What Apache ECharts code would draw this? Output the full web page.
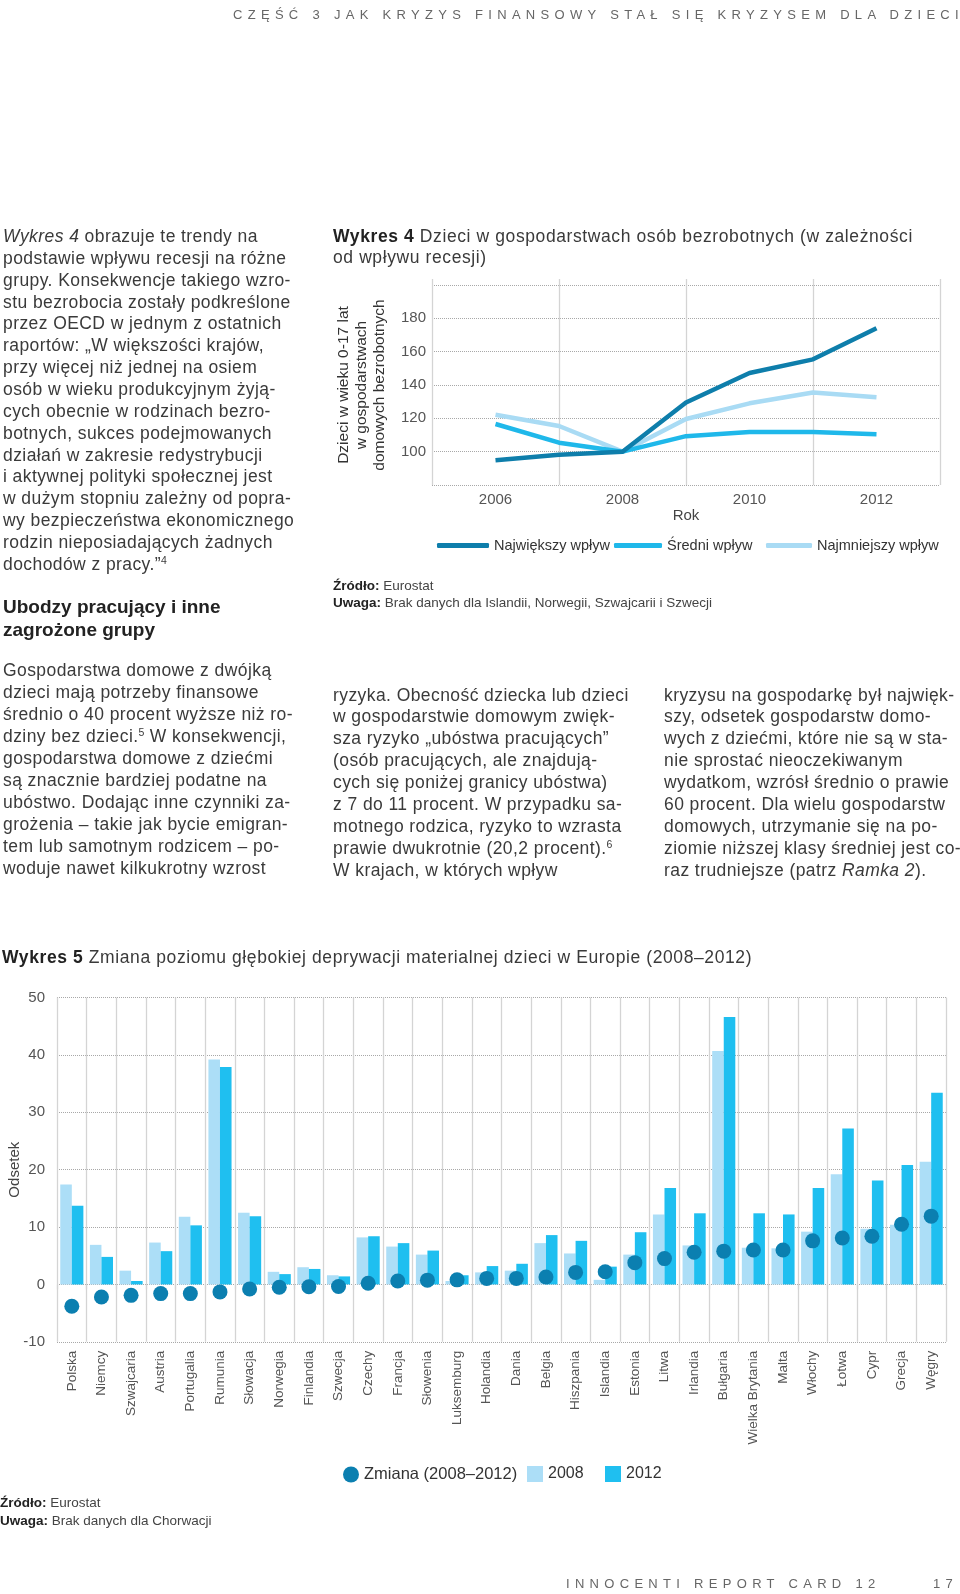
<!DOCTYPE html>
<html><head><meta charset="utf-8">
<script src="https://cdn.jsdelivr.net/npm/echarts@6/dist/echarts.min.js"></script>
<style>
html,body{margin:0;padding:0;background:#fff;}
body{width:960px;height:1594px;position:relative;overflow:hidden;font-family:'Liberation Sans',Arial,sans-serif;color:#3a3a3a;}
#chart{position:absolute;left:0;top:0;width:960px;height:1594px;}
.t{position:absolute;white-space:nowrap;}
.body{font-size:17.5px;letter-spacing:0.42px;line-height:22px;color:#3a3a3a;}
.head{font-size:19px;font-weight:bold;line-height:22px;color:#222;}
.ttl{font-size:17.5px;letter-spacing:0.6px;line-height:22px;color:#3a3a3a;}
.ttl b{color:#222;}
.src{font-size:13.5px;line-height:17px;color:#444;}
.src b{color:#222;}
.cap{font-size:13px;letter-spacing:5.3px;line-height:18px;color:#666;}
sup{font-size:0.6em;vertical-align:baseline;position:relative;top:-0.6em;letter-spacing:0;}
</style>
</head><body>
<div id="chart"></div>
<div id="txt"></div>
<script>
// ---- Wykres 4 data ----
const years4 = [2006, 2007, 2008, 2009, 2010, 2011, 2012];
const najwiekszy = [94.8, 98.2, 100, 129.5, 147.2, 155.4, 174.1];
const sredni = [116.6, 105.4, 100, 109.3, 111.8, 111.8, 110.5];
const najmniejszy = [122.2, 115.4, 100, 119.6, 129, 135.5, 132.6];
const xTicks4 = [2006, 2008, 2010, 2012];
const yTicks4 = [100, 120, 140, 160, 180];

// ---- Wykres 5 data ----
const countries = ['Polska','Niemcy','Szwajcaria','Austria','Portugalia','Rumunia','Słowacja','Norwegia','Finlandia','Szwecja','Czechy','Francja','Słowenia','Luksemburg','Holandia','Dania','Belgia','Hiszpania','Islandia','Estonia','Litwa','Irlandia','Bułgaria','Wielka Brytania','Malta','Włochy','Łotwa','Cypr','Grecja','Węgry'];
const v2008 = [17.4, 6.9, 2.4, 7.3, 11.8, 39.2, 12.5, 2.2, 3.0, 1.6, 8.2, 6.6, 5.2, 0.6, 2.1, 2.4, 7.2, 5.4, 0.8, 5.2, 12.2, 6.8, 40.7, 6.4, 6.3, 9.2, 19.2, 9.7, 10.4, 21.4];
const v2012 = [13.7, 4.8, 0.6, 5.8, 10.3, 37.9, 11.9, 1.8, 2.7, 1.4, 8.4, 7.2, 5.9, 1.6, 3.2, 3.6, 8.6, 7.6, 3.1, 9.1, 16.8, 12.4, 46.6, 12.4, 12.2, 16.8, 27.2, 18.1, 20.8, 33.4];
const zmiana = [-3.8, -2.2, -1.9, -1.6, -1.6, -1.3, -0.8, -0.5, -0.4, -0.35, 0.2, 0.6, 0.75, 0.8, 1.05, 1.05, 1.3, 2.1, 2.2, 3.8, 4.5, 5.6, 5.8, 6.0, 6.0, 7.6, 8.1, 8.4, 10.5, 11.9];
const yTicks5 = [-10, 0, 10, 20, 30, 40, 50];

// ---- text blocks ----
const col1a = [
 '<i>Wykres 4</i> obrazuje te trendy na',
 'podstawie wpływu recesji na różne',
 'grupy. Konsekwencje takiego wzro-',
 'stu bezrobocia zostały podkreślone',
 'przez OECD w jednym z ostatnich',
 'raportów: „W większości krajów,',
 'przy więcej niż jednej na osiem',
 'osób w wieku produkcyjnym żyją-',
 'cych obecnie w rodzinach bezro-',
 'botnych, sukces podejmowanych',
 'działań w zakresie redystrybucji',
 'i aktywnej polityki społecznej jest',
 'w dużym stopniu zależny od popra-',
 'wy bezpieczeństwa ekonomicznego',
 'rodzin nieposiadających żadnych',
 'dochodów z pracy.”<sup>4</sup>'
];
const heading = ['Ubodzy pracujący i inne', 'zagrożone grupy'];
const col1b = [
 'Gospodarstwa domowe z dwójką',
 'dzieci mają potrzeby finansowe',
 'średnio o 40 procent wyższe niż ro-',
 'dziny bez dzieci.<sup>5</sup> W konsekwencji,',
 'gospodarstwa domowe z dziećmi',
 'są znacznie bardziej podatne na',
 'ubóstwo. Dodając inne czynniki za-',
 'grożenia – takie jak bycie emigran-',
 'tem lub samotnym rodzicem – po-',
 'woduje nawet kilkukrotny wzrost'
];
const col2 = [
 'ryzyka. Obecność dziecka lub dzieci',
 'w gospodarstwie domowym zwięk-',
 'sza ryzyko „ubóstwa pracujących”',
 '(osób pracujących, ale znajdują-',
 'cych się poniżej granicy ubóstwa)',
 'z 7 do 11 procent. W przypadku sa-',
 'motnego rodzica, ryzyko to wzrasta',
 'prawie dwukrotnie (20,2 procent).<sup>6</sup>',
 'W krajach, w których wpływ'
];
const col3 = [
 'kryzysu na gospodarkę był najwięk-',
 'szy, odsetek gospodarstw domo-',
 'wych z dziećmi, które nie są w sta-',
 'nie sprostać nieoczekiwanym',
 'wydatkom, wzrósł średnio o prawie',
 '60 procent. Dla wielu gospodarstw',
 'domowych, utrzymanie się na po-',
 'ziomie niższej klasy średniej jest co-',
 'raz trudniejsze (patrz <i>Ramka 2</i>).'
];

const txt = document.getElementById('txt');
function addLines(lines, x, yc0, step, cls, lh) {
  lines.forEach((s, i) => {
    const d = document.createElement('div');
    d.className = 't ' + cls;
    d.style.left = x + 'px';
    d.style.top = (yc0 + i * step - lh / 2) + 'px';
    d.innerHTML = s;
    txt.appendChild(d);
  });
}
addLines(['CZĘŚĆ 3 JAK KRYZYS FINANSOWY STAŁ SIĘ KRYZYSEM DLA DZIECI'], 233, 15, 0, 'cap', 18);
addLines(col1a, 3, 236, 21.86, 'body', 22);
addLines(heading, 3, 607, 22.5, 'head', 22);
addLines(col1b, 3, 670, 22.03, 'body', 22);
addLines(col2, 333, 694.5, 21.97, 'body', 22);
addLines(col3, 664, 694.5, 21.97, 'body', 22);
addLines(['<b>Wykres 4</b> Dzieci w gospodarstwach osób bezrobotnych (w zależności', 'od wpływu recesji)'], 333, 236, 21.3, 'ttl', 22);
addLines(['<b>Źródło:</b> Eurostat', '<b>Uwaga:</b> Brak danych dla Islandii, Norwegii, Szwajcarii i Szwecji'], 333, 585, 17.5, 'src', 17);
addLines(['<b>Wykres 5</b> Zmiana poziomu głębokiej deprywacji materialnej dzieci w Europie (2008–2012)'], 2, 957, 0, 'ttl', 22);
addLines(['<b>Źródło:</b> Eurostat', '<b>Uwaga:</b> Brak danych dla Chorwacji'], 0, 1502, 18, 'src', 17);
addLines(['INNOCENTI REPORT CARD 12'], 566, 1584, 0, 'cap', 18);
addLines(['17'], 933, 1584, 0, 'cap', 18);

// ---- chart ----
const FONT = 'Liberation Sans';
const gridC = '#d4d4d4';
const dotC = '#a8a8a8';
const cDark = '#0e7eab', cMid = '#1fb8ea', cLight = '#a9dbf4';
const c2008 = '#acdef7', c2012 = '#1fbff0', cDot = '#0b7fb0';

const chart = echarts.init(document.getElementById('chart'), null, {renderer: 'canvas'});
const lbl = {color: '#555', fontFamily: FONT, fontSize: 15};
const lg = {fontSize: 14.5, color: '#333', fontFamily: FONT};
chart.setOption({
  animation: false,
  textStyle: {fontFamily: FONT},
  grid: [
    {left: 432, top: 285, width: 508, height: 200, containLabel: false, outerBoundsMode: 'none'},
    {left: 57, top: 997.6, width: 889, height: 344.2, containLabel: false, outerBoundsMode: 'none'}
  ],
  legend: [
    {data: ['Największy wpływ'], left: 437, top: 538, padding: 0, icon: 'roundRect', itemWidth: 52, itemHeight: 5, textStyle: lg},
    {data: ['Średni wpływ'], left: 614, top: 538, padding: 0, icon: 'roundRect', itemWidth: 48, itemHeight: 5, textStyle: lg},
    {data: ['Najmniejszy wpływ'], left: 766, top: 538, padding: 0, icon: 'roundRect', itemWidth: 46, itemHeight: 5, textStyle: lg},
    {data: [{name: 'Zmiana (2008–2012)', icon: 'circle'}], left: 343, top: 1466, padding: 0, itemWidth: 16, itemHeight: 16, textStyle: {fontSize: 16.5, color: '#333', fontFamily: FONT}},
    {data: [{name: '2008', icon: 'rect'}], left: 527, top: 1466, padding: 0, itemWidth: 16, itemHeight: 16, textStyle: {fontSize: 16, color: '#333', fontFamily: FONT}},
    {data: [{name: '2012', icon: 'rect'}], left: 605, top: 1466, padding: 0, itemWidth: 16, itemHeight: 16, textStyle: {fontSize: 16, color: '#333', fontFamily: FONT}}
  ],
  xAxis: [
    {gridIndex: 0, type: 'value', min: 2005, max: 2013, interval: 1,
     axisLabel: Object.assign({}, lbl, {margin: 7, formatter: v => xTicks4.includes(v) ? String(v) : ''}),
     axisLine: {show: false}, axisTick: {show: false}, splitLine: {show: false},
     name: 'Rok', nameLocation: 'middle', nameGap: 23, nameTextStyle: {color: '#444', fontSize: 15, fontFamily: FONT}},
    {gridIndex: 0, type: 'value', min: 2005, max: 2013, interval: 2,
     axisLabel: {show: false}, axisLine: {show: false},
     axisTick: {show: true, length: 6, lineStyle: {color: gridC, width: 1.3}},
     splitLine: {show: true, lineStyle: {color: gridC, width: 1.3}}},
    {gridIndex: 1, type: 'category', data: countries, boundaryGap: true,
     axisLabel: {interval: 0, rotate: 90, color: '#555', fontFamily: FONT, fontSize: 13.5, margin: 9},
     axisLine: {show: false},
     axisTick: {show: true, interval: 0, length: 5, lineStyle: {color: gridC, width: 1.3}},
     splitLine: {show: true, interval: 0, lineStyle: {color: gridC, width: 1.3}}}
  ],
  yAxis: [
    {gridIndex: 0, type: 'value', min: 80, max: 200, interval: 20,
     axisLabel: Object.assign({}, lbl, {margin: 6, formatter: v => yTicks4.includes(v) ? String(v) : ''}),
     axisLine: {show: false}, axisTick: {show: false},
     splitLine: {show: true, lineStyle: {type: 'dotted', color: dotC, width: 1}},
     name: 'Dzieci w wieku 0-17 lat\nw gospodarstwach\ndomowych bezrobotnych', nameLocation: 'middle', nameRotate: 90, nameGap: 43,
     nameTextStyle: {color: '#333', fontSize: 15.5, lineHeight: 18, fontFamily: FONT, align: 'center'}},
    {gridIndex: 1, type: 'value', min: -10, max: 50, interval: 10,
     axisLabel: Object.assign({}, lbl, {margin: 12, formatter: v => yTicks5.includes(v) ? String(v) : ''}),
     axisLine: {show: false}, axisTick: {show: false},
     splitLine: {show: true, lineStyle: {type: 'dotted', color: dotC, width: 1}},
     name: 'Odsetek', nameLocation: 'middle', nameRotate: 90, nameGap: 35, nameMoveOverlap: false,
     nameTextStyle: {color: '#444', fontSize: 15, fontFamily: FONT}}
  ],
  series: [
    {type: 'line', name: 'Najmniejszy wpływ', xAxisIndex: 0, yAxisIndex: 0, z: 2,
     data: years4.map((y, i) => [y, najmniejszy[i]]), symbol: 'none',
     lineStyle: {width: 4.5, color: cLight, join: 'round'}, itemStyle: {color: cLight}},
    {type: 'line', name: 'Średni wpływ', xAxisIndex: 0, yAxisIndex: 0, z: 3,
     data: years4.map((y, i) => [y, sredni[i]]), symbol: 'none',
     lineStyle: {width: 4.5, color: cMid, join: 'round'}, itemStyle: {color: cMid}},
    {type: 'line', name: 'Największy wpływ', xAxisIndex: 0, yAxisIndex: 0, z: 4,
     data: years4.map((y, i) => [y, najwiekszy[i]]), symbol: 'none',
     lineStyle: {width: 4.5, color: cDark, join: 'round'}, itemStyle: {color: cDark}},
    {type: 'bar', name: '2008', xAxisIndex: 2, yAxisIndex: 1, data: v2008,
     barGap: '0%', barCategoryGap: '22%', itemStyle: {color: c2008}},
    {type: 'bar', name: '2012', xAxisIndex: 2, yAxisIndex: 1, data: v2012,
     barGap: '0%', barCategoryGap: '22%', itemStyle: {color: c2012}},
    {type: 'scatter', name: 'Zmiana (2008–2012)', xAxisIndex: 2, yAxisIndex: 1, z: 5,
     data: zmiana, symbol: 'circle', symbolSize: 15, itemStyle: {color: cDot, opacity: 1}}
  ]
});
</script>
</body></html>
